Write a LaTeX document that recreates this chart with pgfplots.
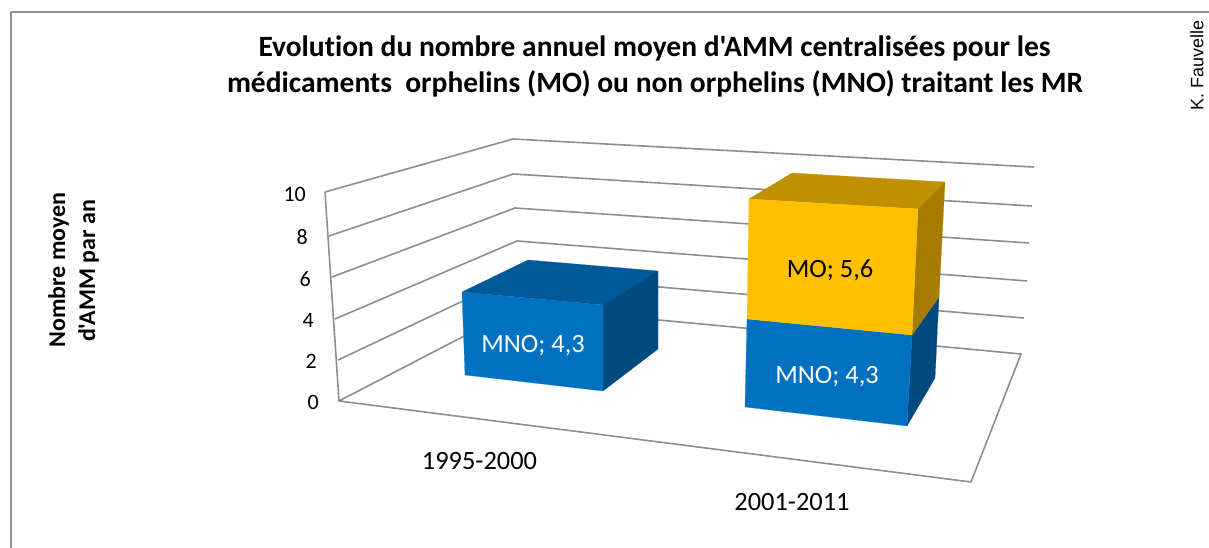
\documentclass[border=0pt]{standalone}
\usepackage{fontspec}
\newfontfamily\carl{Carlito}[Ligatures=NoCommon]
\newfontfamily\arialf{Liberation Sans}
\usepackage{pgfplots}
\pgfplotsset{compat=1.18}
\definecolor{gridc}{HTML}{8E8E8E}
\definecolor{frontB}{HTML}{0070C0}
\definecolor{topB}{HTML}{005A9A}
\definecolor{sideB}{HTML}{004A80}
\definecolor{frontY}{HTML}{FFC000}
\definecolor{topY}{HTML}{BF9000}
\definecolor{sideY}{HTML}{A67C00}
\tikzset{
  gl/.style={draw=gridc,line width=1.6pt},
  face/.style={draw=#1,line width=0.2pt,fill=#1},
  lab/.style={font=\carl\fontsize{26.4}{30}\selectfont,inner sep=0pt,anchor=base},
  tk/.style={font=\carl\fontsize{22}{26}\selectfont,inner sep=0pt,anchor=base east},
  ttl/.style={font=\carl\fontsize{29.5}{35}\selectfont\bfseries,inner sep=0pt,anchor=base},
  yl/.style={font=\carl\fontsize{24}{30}\selectfont\bfseries,inner sep=0pt,anchor=base,rotate=90},
}
\begin{document}
\begin{tikzpicture}[x=1pt,y=1pt]
\useasboundingbox (0,0) rectangle (1209,548);
\begin{axis}[
  at={(0,0)},anchor=south west,
  width=1209pt,height=548pt,scale only axis,hide axis,
  xmin=0,xmax=1209,ymin=0,ymax=548,y dir=reverse,clip=false,
  every axis plot/.append style={line join=round,no markers},
]
% chart frame
\addplot[draw=gridc,line width=2.4pt] coordinates {(11,548)(11,12)(1209,12)};
% floor
\addplot[gl] coordinates {(520,307)(339,401)(971,482)(1021,354)(520,307)};
% side wall and back wall gridlines (0 to 10)
\addplot[gl] coordinates {(339,401)(325,192)};
\addplot[gl] coordinates {(338,360)(518,275)(1024,318)};
\addplot[gl] coordinates {(335,319)(517,241)(1027,281)};
\addplot[gl] coordinates {(332,277)(515,208)(1029,243)};
\addplot[gl] coordinates {(329,236)(513,174)(1032,206)};
\addplot[gl] coordinates {(325,192)(513,139)(1034,167)};
% bar 1995-2000: MNO 4.3
\addplot[face=topB] coordinates {(462,292)(528,260)(658,271)(603,305)} --cycle;
\addplot[face=sideB] coordinates {(603,305)(658,271)(658,349)(603,391)} --cycle;
\addplot[face=frontB] coordinates {(462,292)(603,305)(603,391)(465,375)} --cycle;
% bar 2001-2011: MNO 4.3
\addplot[face=sideB] coordinates {(912,335)(939,297)(935,378)(907,426)} --cycle;
\addplot[face=frontB] coordinates {(747,319)(912,335)(907,426)(745,407)} --cycle;
% bar 2001-2011: MO 5.6
\addplot[face=topY] coordinates {(749,199)(792,173)(945,182)(918,209)} --cycle;
\addplot[face=sideY] coordinates {(918,209)(945,182)(939,297)(912,335)} --cycle;
\addplot[face=frontY] coordinates {(749,199)(918,209)(912,335)(747,319)} --cycle;
% texts
\node[ttl] at (axis cs:654.5,57) {Evolution du nombre annuel moyen d'AMM centralisées pour les};
\node[ttl] at (axis cs:655,93) {médicaments\ \ orphelins (MO) ou non orphelins (MNO) traitant les MR};
\node[yl] at (axis cs:65,270) {Nombre moyen};
\node[yl] at (axis cs:95,271) {d'AMM par an};
\node[font=\arialf\fontsize{18}{20}\selectfont,rotate=90,inner sep=0pt] at (axis cs:1197,65) {K. Fauvelle};
\node[tk] at (axis cs:319,409) {0};
\node[tk] at (axis cs:317,368) {2};
\node[tk] at (axis cs:314,327) {4};
\node[tk] at (axis cs:311,286) {6};
\node[tk] at (axis cs:308,244) {8};
\node[tk] at (axis cs:306,201) {10};
\node[lab] at (axis cs:479.5,469) {1995-2000};
\node[lab] at (axis cs:792,510) {2001-2011};
\node[lab,text=white] at (axis cs:533,352) {MNO; 4,3};
\node[lab,text=white] at (axis cs:827,383) {MNO; 4,3};
\node[lab,text=black] at (axis cs:830,277) {MO; 5,6};
\end{axis}
\end{tikzpicture}
\end{document}
